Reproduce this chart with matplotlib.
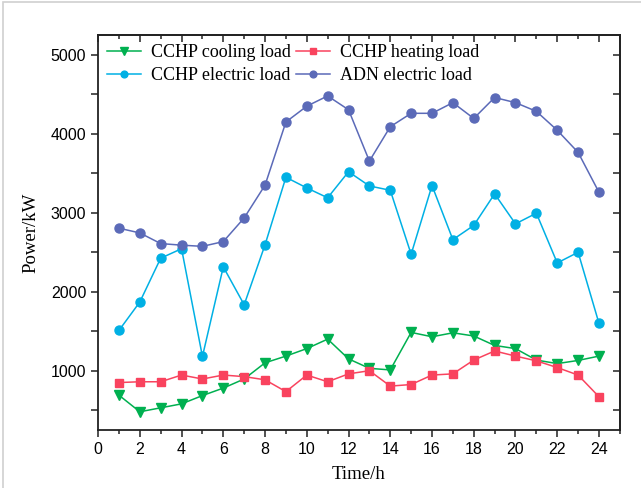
import matplotlib.pyplot as plt
from matplotlib.ticker import MultipleLocator
from matplotlib.patches import Rectangle

hours = list(range(1, 25))
cooling = [690, 480, 530, 580, 685, 780, 895, 1100, 1185, 1280, 1400, 1150,
           1030, 1010, 1485, 1430, 1480, 1440, 1320, 1280, 1135, 1090, 1130, 1185]
heating = [850, 860, 860, 945, 895, 945, 925, 885, 735, 945, 860, 960,
           1000, 805, 825, 945, 960, 1135, 1250, 1185, 1125, 1040, 945, 670]
cchp_elec = [1510, 1870, 2425, 2545, 1180, 2315, 1835, 2595, 3450, 3315, 3190, 3520,
             3340, 3285, 2475, 3345, 2660, 2840, 3240, 2860, 2995, 2365, 2500, 1600]
adn_elec = [2805, 2745, 2610, 2590, 2575, 2635, 2935, 3350, 4150, 4350, 4480, 4305,
            3655, 4090, 4260, 4260, 4395, 4195, 4460, 4395, 4285, 4045, 3765, 3260]

serif = "Liberation Serif"
sans = "Liberation Sans"

fig = plt.figure(figsize=(6.41, 4.88), dpi=100)
ax = fig.add_axes([0.153, 0.119, 0.814, 0.809])

l1, = ax.plot(hours, cooling, "-v", color="#00B050", lw=1.1, ms=7, label="CCHP cooling load")
l2, = ax.plot(hours, heating, "-s", color="#F9435E", lw=1.1, ms=6, label="CCHP heating load")
l3, = ax.plot(hours, cchp_elec, "-o", color="#00B0E4", lw=1.1, ms=6.5, label="CCHP electric load")
l4, = ax.plot(hours, adn_elec, "-o", color="#5B6AB8", lw=1.1, ms=6.5, label="ADN electric load")

ax.set_xlim(0, 25)
ax.set_ylim(250, 5250)
ax.xaxis.set_major_locator(MultipleLocator(2))
ax.xaxis.set_minor_locator(MultipleLocator(1))
ax.yaxis.set_major_locator(MultipleLocator(1000))
ax.yaxis.set_minor_locator(MultipleLocator(500))

ax.tick_params(which="both", direction="out", width=1.2, labelsize=11.5, color="#333333")
ax.tick_params(which="major", length=5)
ax.tick_params(which="minor", length=3)
ax.tick_params(axis="y", which="minor", length=5)
for lab in ax.get_xticklabels() + ax.get_yticklabels():
    lab.set_family(sans)

# top and right: inward ticks, no labels
top = ax.secondary_xaxis("top")
top.xaxis.set_major_locator(MultipleLocator(2))
top.xaxis.set_minor_locator(MultipleLocator(1))
top.tick_params(which="both", direction="in", labeltop=False, width=1.2, color="#333333")
top.tick_params(which="major", length=5)
top.tick_params(which="minor", length=3)
right = ax.secondary_yaxis("right")
right.yaxis.set_major_locator(MultipleLocator(1000))
right.yaxis.set_minor_locator(MultipleLocator(500))
right.tick_params(which="both", direction="in", labelright=False, width=1.2,
                  length=5, color="#333333")

for a in (ax, top, right):
    for s in a.spines.values():
        s.set_linewidth(1.3)
        s.set_color("#222222")

ax.set_xlabel("Time/h", family=serif, fontsize=13.5, labelpad=7)
ax.set_ylabel("Power/kW", family=serif, fontsize=13.5, labelpad=8)

ax.legend([l1, l3, l2, l4], [l.get_label() for l in (l1, l3, l2, l4)],
          loc="upper left", bbox_to_anchor=(0.0, 1.0), ncol=2, frameon=False,
          prop={"family": serif, "size": 13}, markerscale=0.75,
          handlelength=1.9, handletextpad=0.55, columnspacing=0.25,
          labelspacing=0.35, borderaxespad=0.1)

fig.patches.append(Rectangle((0.005, -0.05), 1.2, 1.045, transform=fig.transFigure,
                             fill=False, edgecolor="#d0d0d0", lw=1.2))

fig.savefig("out.png", dpi=100)
